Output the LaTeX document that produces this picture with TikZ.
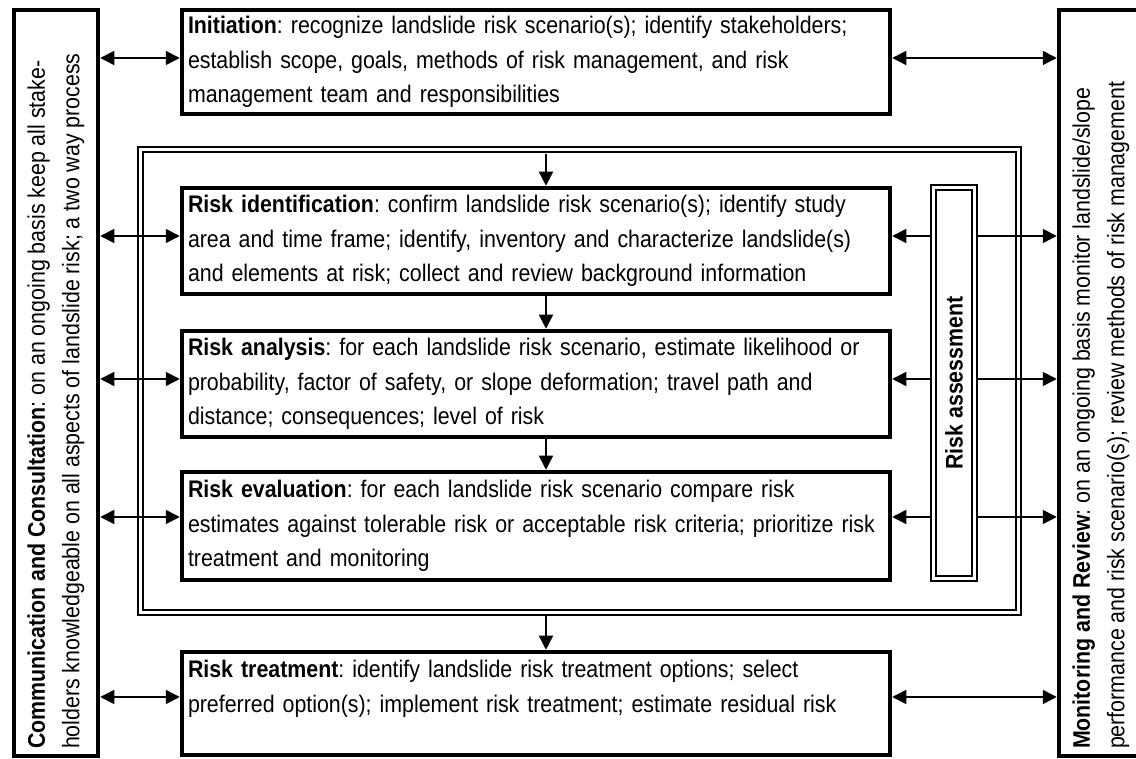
\documentclass[tikz,border=0pt]{standalone}
\usepackage{fontspec}
\setmainfont{Liberation Sans}[FakeStretch=0.89]
\usepackage{graphicx}
\usetikzlibrary{arrows.meta}
\newcommand{\boxfont}{\fontsize{24}{34.5}\selectfont\frenchspacing}
\tikzset{
  stage/.style={draw, line width=4.5pt, minimum width=708pt, text width=696pt, inner sep=6pt, align=left, font=\boxfont},
  sidebox/.style={draw, line width=4.5pt, minimum width=84pt, minimum height=746pt, inner sep=0pt, font=\boxfont},
  dblframe/.style={draw, double, line width=2.2pt, double distance=2.5pt, inner sep=0pt},
  flow/.style={-{Triangle[length=14pt,width=14pt]}, line width=1.5pt},
  twoway/.style={{Triangle[length=14pt,width=14pt]}-{Triangle[length=14pt,width=14pt]}, line width=1.5pt}
}
\begin{document}
\begin{tikzpicture}[x=1pt, y=1pt]
          \useasboundingbox (0, 0) rectangle (1136, 759);
          \node[sidebox] (comm) at (56, 376){\rotatebox{90}{\parbox{732pt}{\raggedright\textbf{Communication and Consultation}: on an ongoing basis keep all stake-\\holders knowledgeable on all aspects of landslide risk; a two way process}}};
          \node[sidebox] (mon) at (1101, 376){\rotatebox{90}{\parbox{732pt}{\raggedright\textbf{Monitoring and Review}: on an ongoing basis monitor landslide/slope\\performance and risk scenario(s); review methods of risk management}}};
          \node[stage, minimum height=104pt] (init) at (536, 697){\textbf{Initiation}: recognize landslide risk scenario(s); identify stakeholders;\\establish scope, goals, methods of risk management, and risk\\management team and responsibilities};
          \node[stage, minimum height=106pt] (ident) at (536, 518){\textbf{Risk identification}: confirm landslide risk scenario(s); identify study\\area and time frame; identify, inventory and characterize landslide(s)\\and elements at risk; collect and review background information};
          \node[stage, minimum height=106pt] (anal) at (536, 375){\textbf{Risk analysis}: for each landslide risk scenario, estimate likelihood or\\probability, factor of safety, or slope deformation; travel path and\\distance; consequences; level of risk};
          \node[stage, minimum height=108pt] (eval) at (536, 233){\textbf{Risk evaluation}: for each landslide risk scenario compare risk\\estimates against tolerable risk or acceptable risk criteria; prioritize risk\\treatment and monitoring};
          \node[stage, minimum height=103pt] (treat) at (536, 55.5){\textbf{Risk treatment}: identify landslide risk treatment options; select\\preferred option(s); implement risk treatment; estimate residual risk\\\mbox{}};
          \node[dblframe, minimum width=878pt, minimum height=463pt] (assess) at (579.5, 378){};
          \node[dblframe, minimum width=41pt, minimum height=391pt, font=\boxfont] (rabox) at (954, 376){\rotatebox{90}{\textbf{Risk assessment}}};
          \coordinate (ax) at (546, 0);
          \coordinate (r1) at (0, 701);
          \coordinate (r2) at (0, 523);
          \coordinate (r3) at (0, 380);
          \coordinate (r4) at (0, 242);
          \coordinate (r5) at (0, 62);
          \draw[flow] (assess.north -| ax) ++(0, -5.5) -- (ident.north -| ax);
          \draw[flow] (ident.south -| ax) -- (anal.north -| ax);
          \draw[flow] (anal.south -| ax) -- (eval.north -| ax);
          \draw[flow] (assess.south -| ax) -- (treat.north -| ax);
          \draw[twoway] (comm.east |- r1) -- (init.west |- r1);
          \draw[twoway] (comm.east |- r2) -- (ident.west |- r2);
          \draw[twoway] (comm.east |- r3) -- (anal.west |- r3);
          \draw[twoway] (comm.east |- r4) -- (eval.west |- r4);
          \draw[twoway] (comm.east |- r5) -- (treat.west |- r5);
          \draw[twoway] (init.east |- r1) -- (mon.west |- r1);
          \draw[flow] (rabox.west |- r2) -- (ident.east |- r2);
          \draw[flow] (rabox.west |- r3) -- (anal.east |- r3);
          \draw[flow] (rabox.west |- r4) -- (eval.east |- r4);
          \draw[flow] (rabox.east |- r2) -- (mon.west |- r2);
          \draw[flow] (rabox.east |- r3) -- (mon.west |- r3);
          \draw[flow] (rabox.east |- r4) -- (mon.west |- r4);
          \draw[twoway] (treat.east |- r5) -- (mon.west |- r5);
       \end{tikzpicture}
\end{document}
